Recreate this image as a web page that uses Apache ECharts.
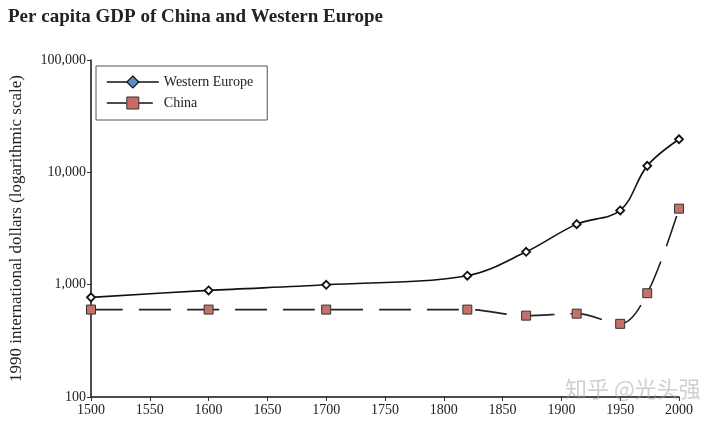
<!DOCTYPE html>
<html><head><meta charset="utf-8">
<script src="https://cdn.jsdelivr.net/npm/echarts@6/dist/echarts.min.js"></script>
<style>html,body{margin:0;padding:0;background:#fff}#c{width:720px;height:421px}</style>
</head><body><div id="c"></div>
<script>
const years = [1500, 1600, 1700, 1820, 1870, 1913, 1950, 1973, 2000];
const westernEurope = [771, 889, 997, 1202, 1960, 3458, 4579, 11416, 19700];
const china = [600, 600, 600, 600, 530, 552, 448, 839, 4750];
const seriesNames = ['Western Europe', 'China'];
const titleText = 'Per capita GDP of China and Western Europe';
const yAxisName = '1990 international dollars (logarithmic scale)';
const watermark = '知乎 @光头强';

const font = '"Liberation Serif", "DejaVu Serif", serif';
const chart = echarts.init(document.getElementById('c'));
chart.setOption({
  animation: false,
  backgroundColor: '#fff',
  textStyle: {fontFamily: font},
  title: {text: titleText, left: 3, top: 3,
    textStyle: {fontFamily: font, fontSize: 19, fontWeight: 'bold', color: '#222'}},
  grid: {left: 83, right: 41, top: 60, bottom: 24, containLabel: false},
  legend: {
    left: 96, top: 66, orient: 'vertical', itemWidth: 52, itemHeight: 15, itemGap: 7,
    padding: [9, 14, 10, 10], borderColor: '#555', borderWidth: 1,
    textStyle: {fontFamily: font, fontSize: 14, color: '#222'},
    data: [
      {name: seriesNames[0], itemStyle: {color: '#5b8fc2', borderColor: '#111', borderWidth: 1.2}, lineStyle: {color: '#111', width: 1.6, type: 'solid'}},
      {name: seriesNames[1], itemStyle: {color: '#c96a66', borderColor: '#333', borderWidth: 1}, lineStyle: {color: '#111', width: 1.6, type: [20, 6]}}
    ]
  },
  xAxis: {type: 'value', min: 1500, max: 2000, interval: 50,
    axisLine: {lineStyle: {color: '#111', width: 1.5}},
    axisTick: {show: true, length: 4, lineStyle: {color: '#333'}},
    splitLine: {show: false},
    axisLabel: {fontFamily: font, fontSize: 14, color: '#222', margin: 6, formatter: v => String(v)}},
  yAxis: {type: 'log', logBase: 10, min: 100, max: 100000,
    name: yAxisName, nameLocation: 'middle', nameGap: 66, nameRotate: 90,
    nameTextStyle: {fontFamily: font, fontSize: 17, color: '#222'},
    axisLine: {show: true, lineStyle: {color: '#111', width: 1.5}},
    axisTick: {show: true, length: 4, lineStyle: {color: '#333'}},
    minorTick: {show: false},
    splitLine: {show: false},
    axisLabel: {fontFamily: font, fontSize: 14, color: '#222', margin: 5,
      formatter: v => Number(v).toLocaleString('en-US')}},
  series: [
    {name: seriesNames[0], type: 'line', smooth: 0.35,
      data: years.map((y, i) => [y, westernEurope[i]]),
      symbol: 'diamond', symbolSize: 8,
      itemStyle: {color: '#fff', borderColor: '#111', borderWidth: 1.8},
      lineStyle: {color: '#111', width: 1.6}, z: 3},
    {name: seriesNames[1], type: 'line', smooth: 0.35,
      data: years.map((y, i) => [y, china[i]]),
      symbol: 'rect', symbolSize: 9,
      itemStyle: {color: '#c4716c', borderColor: '#333', borderWidth: 1},
      lineStyle: {color: '#222', width: 1.6, type: [32, 16]}, z: 2}
  ],
  graphic: [{type: 'text', left: 565, top: 378, silent: true, z: 10,
    style: {text: watermark, fill: 'rgba(160,160,160,0.5)', fontSize: 22, fontFamily: '"Noto Sans CJK SC", sans-serif'}}]
});
</script></body></html>
